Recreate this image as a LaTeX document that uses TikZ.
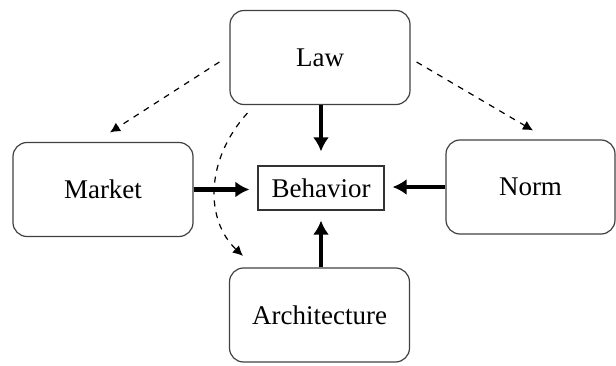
\documentclass[tikz,border=0pt]{standalone}
\usepackage{fontspec}
\setmainfont{Liberation Serif}
\usepackage{tikz}
\usetikzlibrary{arrows.meta,positioning,calc}

\begin{document}
\begin{tikzpicture}[x=0.5pt,y=0.5pt,
    every node/.style={font=\fontsize{13.5}{16}\selectfont},
    force/.style={draw=black!75, line width=0.6pt, rounded corners=7pt, minimum width=90pt, minimum height=47pt},
    target/.style={draw=black!80, line width=0.6pt, minimum width=63pt, minimum height=22pt, inner sep=1pt},
    push/.style={-{Latex[length=7pt,width=8pt]}, line width=2.2pt},
    hint/.style={-{Latex[length=5pt,width=5pt]}, dashed, line width=0.6pt}]
    \useasboundingbox (0,0) rectangle (616,365);

    \node[force] (law) at (320,307.5) {Law};
    \node[force] (market) at (103,175.5) {Market};
    \node[target] (behav) at (321,177) {Behavior};
    \node[force, minimum width=84.5pt] (norm) at (530.5,178) {Norm};
    \node[force] (arch) at (319.5,50) {Architecture};

    % direct constraints
    \draw[push, shorten >=7pt] (law.south -| behav) -- (behav.north);
    \draw[push, shorten >=4pt] (market.east) -- (market.east -| behav.west);
    \draw[push, shorten >=4pt] (norm.west) -- (norm.west -| behav.east);
    \draw[push, shorten >=5pt] (arch.north -| behav) -- (behav.south);

    % indirect regulation
    \coordinate (lawL) at ($(law.west)+(-10,-4.5)$);
    \coordinate (lawR) at ($(law.east)+(6,-4.5)$);
    \coordinate (lawB) at ($(law.south west)+(18,-8)$);
    \draw[hint] (lawL) -- ($(market.north)+(7,9.5)$);
    \draw[hint] (lawR) -- ($(norm.north)+(2.5,9)$);
    \draw[hint] (lawB) .. controls (205,205) and (205,145) .. ($(arch.north west)+(14,11.5)$);
\end{tikzpicture}
\end{document}
